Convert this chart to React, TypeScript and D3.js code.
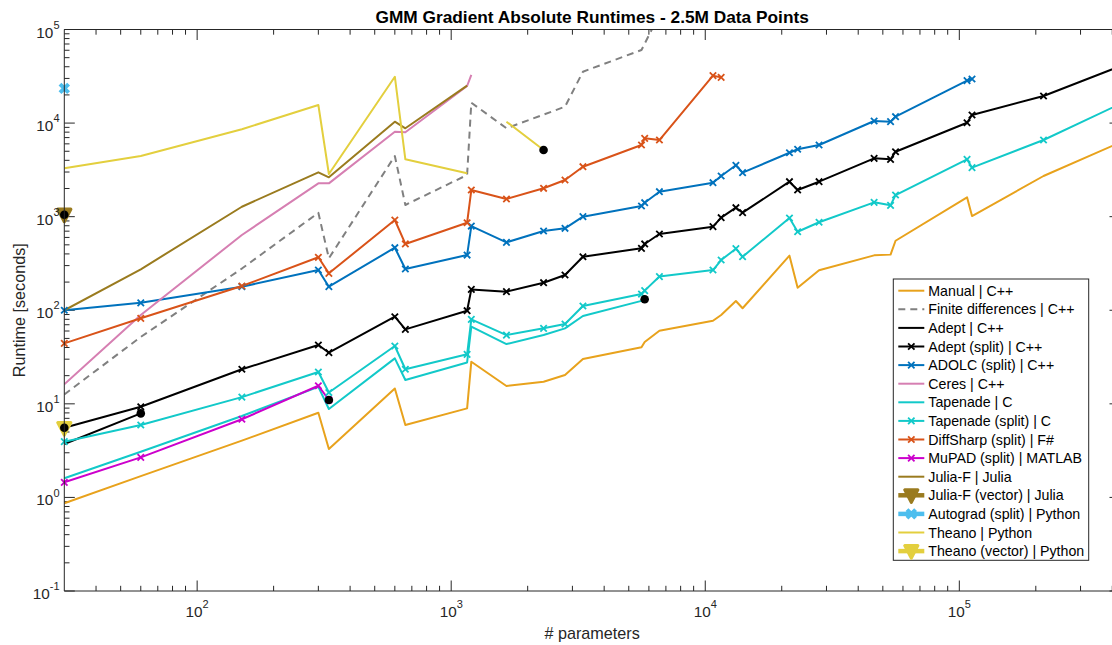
import React from "react";
import * as d3 from "d3";

// ---------------- data ----------------
const xDomain: [number, number] = [30, 429000];
const yDomain: [number, number] = [0.1, 1e5];

const manualX = [30, 60, 150, 300, 330, 600, 660, 1155, 1200, 1650, 2310, 2805, 3300, 5610, 5775, 6600, 10725, 11550, 13200, 14025, 21450, 23100, 28050, 46200, 53625, 56100, 107250, 112200, 214500, 429000];
const manualY = [0.865, 1.69, 4.04, 8.04, 3.29, 14.6, 5.94, 8.95, 28.2, 15.5, 17.2, 20.3, 30.1, 40.2, 45.8, 60.4, 77.3, 89, 125.6, 105, 383, 174, 267, 386, 393, 553, 1610, 1016, 2720, 6200];

const finiteX = [30, 60, 150, 300, 330, 600, 660, 1155, 1200, 1650, 2805, 3300, 5610, 6600];
const finiteY = [12.6, 51.9, 279, 1100, 359, 4450, 1333, 2790, 16500, 8800, 14960, 35400, 60400, 145000];

const adeptX = [30, 60];
const adeptY = [3.72, 7.9];

const adeptSplitX = [30, 60, 150, 300, 330, 600, 660, 1155, 1200, 1650, 2310, 2805, 3300, 5610, 5775, 6600, 10725, 11550, 13200, 14025, 21450, 23100, 28050, 46200, 53625, 56100, 107250, 112200, 214500, 429000];
const adeptSplitY = [5.56, 9.3, 23.4, 42.5, 35.2, 85.3, 62.5, 98.9, 167, 158, 197, 238, 373, 459, 511, 653, 782, 975, 1247, 1103, 2364, 1927, 2364, 4200, 4100, 4940, 10090, 12200, 19460, 40500];

const adolcX = [30, 60, 150, 300, 330, 600, 660, 1155, 1200, 1650, 2310, 2805, 3300, 5610, 5775, 6600, 10725, 11550, 13200, 14025, 21450, 23100, 28050, 46200, 53625, 56100, 107250, 112200];
const adolcY = [100, 120, 178.6, 269, 178.6, 466, 276, 389, 794, 532, 703, 751, 1000, 1300, 1410, 1848, 2306, 2720, 3540, 2950, 4820, 5250, 5830, 10520, 10350, 11700, 28400, 29600];

const ceresX = [30, 60, 150, 300, 330, 600, 660, 1155, 1200];
const ceresY = [16.2, 89, 637, 2270, 2270, 8090, 7970, 24900, 32700];

const tapenadeX = [30, 60, 150, 300, 330, 600, 660, 1155, 1200, 1650, 2310, 2805, 3300, 5610, 5775];
const tapenadeY = [1.6, 3.08, 7.41, 15.2, 8.8, 30.6, 18, 27.7, 66.7, 43.5, 54.3, 64, 86.9, 126, 131];

const tapenadeSplitX = [30, 60, 150, 300, 330, 600, 660, 1155, 1200, 1650, 2310, 2805, 3300, 5610, 5775, 6600, 10725, 11550, 13200, 14025, 21450, 23100, 28050, 46200, 53625, 56100, 107250, 112200, 214500, 429000];
const tapenadeSplitY = [3.94, 5.94, 11.8, 21.9, 13.2, 41.5, 23.4, 33.8, 80, 54.3, 64.1, 71.3, 111, 149, 162, 229, 269, 344, 455, 373, 968, 690, 871, 1423, 1321, 1703, 4100, 3340, 6600, 16000];

const diffSharpX = [30, 60, 150, 300, 330, 600, 660, 1155, 1200, 1650, 2310, 2805, 3300, 5610, 5775, 6600, 10725, 11550];
const diffSharpY = [44.3, 82, 181.6, 368, 248, 921, 511, 861, 1927, 1545, 2010, 2465, 3420, 5830, 6870, 6590, 32100, 30800];

const mupadX = [30, 60, 150, 300, 330];
const mupadY = [1.45, 2.68, 6.84, 15.6, 11];

const juliaX = [30, 60, 150, 300, 330, 600, 660, 1155];
const juliaY = [100, 274, 1277, 2980, 2635, 10350, 8800, 25100];

const juliaVecX = [30];
const juliaVecY = [1050];

const autogradX = [30];
const autogradY = [23500];

const theanoX = [30, 60, 150, 300, 330, 600, 660, 1155, 1200, 1650, 2310];
const theanoY = [3290, 4450, 8590, 15600, 2857, 31300, 4100, 2906, NaN, 10350, 5150];

const theanoVecX = [30];
const theanoVecY = [5.5];

// black dots marking the last completed run of some tools
const dotX = [30, 30, 60, 330, 2310, 5775];
const dotY = [1050, 5.56, 7.9, 11, 5150, 131];

const xMajorTicks = [100, 1000, 10000, 100000];
const yMajorTicks = [0.1, 1, 10, 100, 1000, 10000, 100000];

const titleText = "GMM Gradient Absolute Runtimes - 2.5M Data Points";
const xLabelText = "# parameters";
const yLabelText = "Runtime [seconds]";

type Marker = "none" | "x" | "tri" | "bigx";
interface Series {
  label: string;
  xs: number[];
  ys: number[];
  color: string;
  dash?: string;
  marker: Marker;
  width: number;
}

const series: Series[] = [
  { label: "Manual | C++", xs: manualX, ys: manualY, color: "#E8A21C", marker: "none", width: 2 },
  { label: "Finite differences | C++", xs: finiteX, ys: finiteY, color: "#808080", dash: "7,5", marker: "none", width: 2 },
  { label: "Adept | C++", xs: adeptX, ys: adeptY, color: "#000000", marker: "none", width: 2 },
  { label: "Adept (split) | C++", xs: adeptSplitX, ys: adeptSplitY, color: "#000000", marker: "x", width: 2 },
  { label: "ADOLC (split) | C++", xs: adolcX, ys: adolcY, color: "#0072BD", marker: "x", width: 2 },
  { label: "Ceres | C++", xs: ceresX, ys: ceresY, color: "#D67FB2", marker: "none", width: 2 },
  { label: "Tapenade | C", xs: tapenadeX, ys: tapenadeY, color: "#12C9C9", marker: "none", width: 2 },
  { label: "Tapenade (split) | C", xs: tapenadeSplitX, ys: tapenadeSplitY, color: "#12C9C9", marker: "x", width: 2 },
  { label: "DiffSharp (split) | F#", xs: diffSharpX, ys: diffSharpY, color: "#D95319", marker: "x", width: 2 },
  { label: "MuPAD (split) | MATLAB", xs: mupadX, ys: mupadY, color: "#CC00CC", marker: "x", width: 2 },
  { label: "Julia-F | Julia", xs: juliaX, ys: juliaY, color: "#9A7B1F", marker: "none", width: 2 },
  { label: "Julia-F (vector) | Julia", xs: juliaVecX, ys: juliaVecY, color: "#9A7B1F", marker: "tri", width: 4.5 },
  { label: "Autograd (split) | Python", xs: autogradX, ys: autogradY, color: "#4DBEEE", marker: "bigx", width: 4.5 },
  { label: "Theano | Python", xs: theanoX, ys: theanoY, color: "#E3CF3E", marker: "none", width: 2 },
  { label: "Theano (vector) | Python", xs: theanoVecX, ys: theanoVecY, color: "#E3CF3E", marker: "tri", width: 4.5 },
];

const FONT = "'Liberation Sans', Arial, Helvetica, sans-serif";
const AX = "#262626";

function MarkerShape({ kind, cx, cy, color }: { kind: Marker; cx: number; cy: number; color: string }) {
  if (kind === "x") {
    const s = 3.2;
    return (
      <path
        d={`M${cx - s},${cy - s}L${cx + s},${cy + s}M${cx - s},${cy + s}L${cx + s},${cy - s}`}
        stroke={color}
        strokeWidth={1.8}
        fill="none"
      />
    );
  }
  if (kind === "bigx") {
    const s = 4.3;
    return (
      <path
        d={`M${cx - s},${cy - s}L${cx + s},${cy + s}M${cx - s},${cy + s}L${cx + s},${cy - s}`}
        stroke={color}
        strokeWidth={4}
        fill="none"
      />
    );
  }
  if (kind === "tri") {
    return (
      <path
        d={`M${cx - 6.5},${cy - 5.5}L${cx + 6.5},${cy - 5.5}L${cx},${cy + 7}Z`}
        stroke={color}
        strokeWidth={3.2}
        strokeLinejoin="round"
        fill={color}
      />
    );
  }
  return null;
}

function Pow({ x, y, exp, anchor }: { x: number; y: number; exp: string; anchor: "middle" | "end" }) {
  return (
    <text x={x} y={y} textAnchor={anchor} fontFamily={FONT} fontSize={15.3} fill={AX}>
      <tspan>10</tspan>
      <tspan dy={-8.8} fontSize={11}>{exp}</tspan>
    </text>
  );
}

export default function App() {
  const L = 64.3, R = 1120, T = 29.5, B = 591;
  const x = d3.scaleLog().domain(xDomain).range([L, R]);
  const y = d3.scaleLog().domain(yDomain).range([B, T]);

  const lineGen = d3
    .line<[number, number]>()
    .defined((d) => Number.isFinite(d[1]))
    .x((d) => x(d[0]))
    .y((d) => y(d[1]));

  // minor ticks
  const minorX: number[] = [];
  for (let e = 1; e <= 5; e++) {
    for (let m = 2; m <= 9; m++) {
      const v = m * Math.pow(10, e);
      if (v > xDomain[0] && v <= xDomain[1]) minorX.push(v);
    }
  }
  const minorY: number[] = [];
  for (let e = -1; e <= 4; e++) {
    for (let m = 2; m <= 9; m++) minorY.push(m * Math.pow(10, e));
  }
  const MJ = 10.5, MN = 5.2;

  // legend layout
  const lgX = 893.3, lgY = 279, lgW = 195.4, lgH = 281.3;
  const rowY0 = 290.7, rowDy = 18.6;

  return (
    <div style={{ position: "fixed", left: 0, top: 0, width: 1112, height: 645, background: "#fff" }}>
      <svg width={1112} height={645} style={{ display: "block" }}>
        <defs>
          <clipPath id="plotClip">
            <rect x={L} y={T} width={R - L} height={B - T} />
          </clipPath>
        </defs>
        <rect x={0} y={0} width={1112} height={645} fill="#fff" />

        {/* ticks */}
        <g stroke={AX} strokeWidth={1}>
          {xMajorTicks.map((v) => (
            <g key={"xm" + v}>
              <line x1={x(v)} x2={x(v)} y1={B} y2={B - MJ} />
              <line x1={x(v)} x2={x(v)} y1={T} y2={T + MJ} />
            </g>
          ))}
          {minorX.map((v) => (
            <g key={"xn" + v}>
              <line x1={x(v)} x2={x(v)} y1={B} y2={B - MN} />
              <line x1={x(v)} x2={x(v)} y1={T} y2={T + MN} />
            </g>
          ))}
          {yMajorTicks.map((v) => (
            <g key={"ym" + v}>
              <line x1={L} x2={L + MJ} y1={y(v)} y2={y(v)} />
              <line x1={R} x2={R - MJ} y1={y(v)} y2={y(v)} />
            </g>
          ))}
          {minorY.map((v) => (
            <g key={"yn" + v}>
              <line x1={L} x2={L + MN} y1={y(v)} y2={y(v)} />
              <line x1={R} x2={R - MN} y1={y(v)} y2={y(v)} />
            </g>
          ))}
        </g>

        {/* series lines */}
        <g clipPath="url(#plotClip)" fill="none" strokeLinejoin="round">
          {series.map((s) => {
            const pts = s.xs.map((xv, i) => [xv, s.ys[i]] as [number, number]);
            if (pts.length < 2) return null;
            return (
              <path
                key={"l" + s.label}
                d={lineGen(pts) || ""}
                stroke={s.color}
                strokeWidth={s.width > 2 ? 2 : s.width}
                strokeDasharray={s.dash}
              />
            );
          })}
        </g>

        {/* series markers */}
        <g>
          {series.map((s) =>
            s.marker === "none"
              ? null
              : s.xs.map((xv, i) =>
                  Number.isFinite(s.ys[i]) && xv < xDomain[1] ? (
                    <MarkerShape key={s.label + i} kind={s.marker} cx={x(xv)} cy={y(s.ys[i])} color={s.color} />
                  ) : null
                )
          )}
        </g>

        {/* end dots */}
        <g fill="#000">
          {dotX.map((xv, i) => (
            <circle key={"d" + i} cx={x(xv)} cy={y(dotY[i])} r={4.3} />
          ))}
        </g>

        {/* axes box */}
        <g stroke={AX} strokeWidth={1} fill="none">
          <line x1={L} x2={L} y1={T} y2={B} />
          <line x1={L} x2={R} y1={B} y2={B} />
          <line x1={L} x2={R} y1={T} y2={T} />
          <line x1={R} x2={R} y1={T} y2={B} />
        </g>

        {/* tick labels */}
        {xMajorTicks.map((v) => (
          <Pow key={"xl" + v} x={x(v)} y={B + 26} exp={String(Math.round(Math.log10(v)))} anchor="middle" />
        ))}
        {yMajorTicks.map((v) => (
          <Pow key={"yl" + v} x={59.5} y={y(v) + 8} exp={String(Math.round(Math.log10(v)))} anchor="end" />
        ))}

        {/* labels */}
        <text x={(L + R) / 2} y={22.5} textAnchor="middle" fontFamily={FONT} fontWeight="bold" fontSize={17.3} fill="#000">
          {titleText}
        </text>
        <text x={(L + R) / 2} y={639} textAnchor="middle" fontFamily={FONT} fontSize={16.2} fill={AX}>
          {xLabelText}
        </text>
        <text
          transform={`translate(24.5,${(T + B) / 2}) rotate(-90)`}
          textAnchor="middle"
          fontFamily={FONT}
          fontSize={16.2}
          fill={AX}
        >
          {yLabelText}
        </text>

        {/* legend */}
        <rect x={lgX} y={lgY} width={lgW} height={lgH} fill="#fff" stroke={AX} strokeWidth={1} />
        {series.map((s, i) => {
          const cy = rowY0 + i * rowDy;
          return (
            <g key={"lg" + s.label}>
              <line
                x1={898.3}
                x2={924.3}
                y1={cy}
                y2={cy}
                stroke={s.color}
                strokeWidth={s.width}
                strokeDasharray={s.dash}
              />
              {s.marker !== "none" && <MarkerShape kind={s.marker} cx={911.3} cy={cy} color={s.color} />}
              <text x={928.3} y={cy + 5} fontFamily={FONT} fontSize={14.2} fill="#000">
                {s.label}
              </text>
            </g>
          );
        })}
      </svg>
    </div>
  );
}
